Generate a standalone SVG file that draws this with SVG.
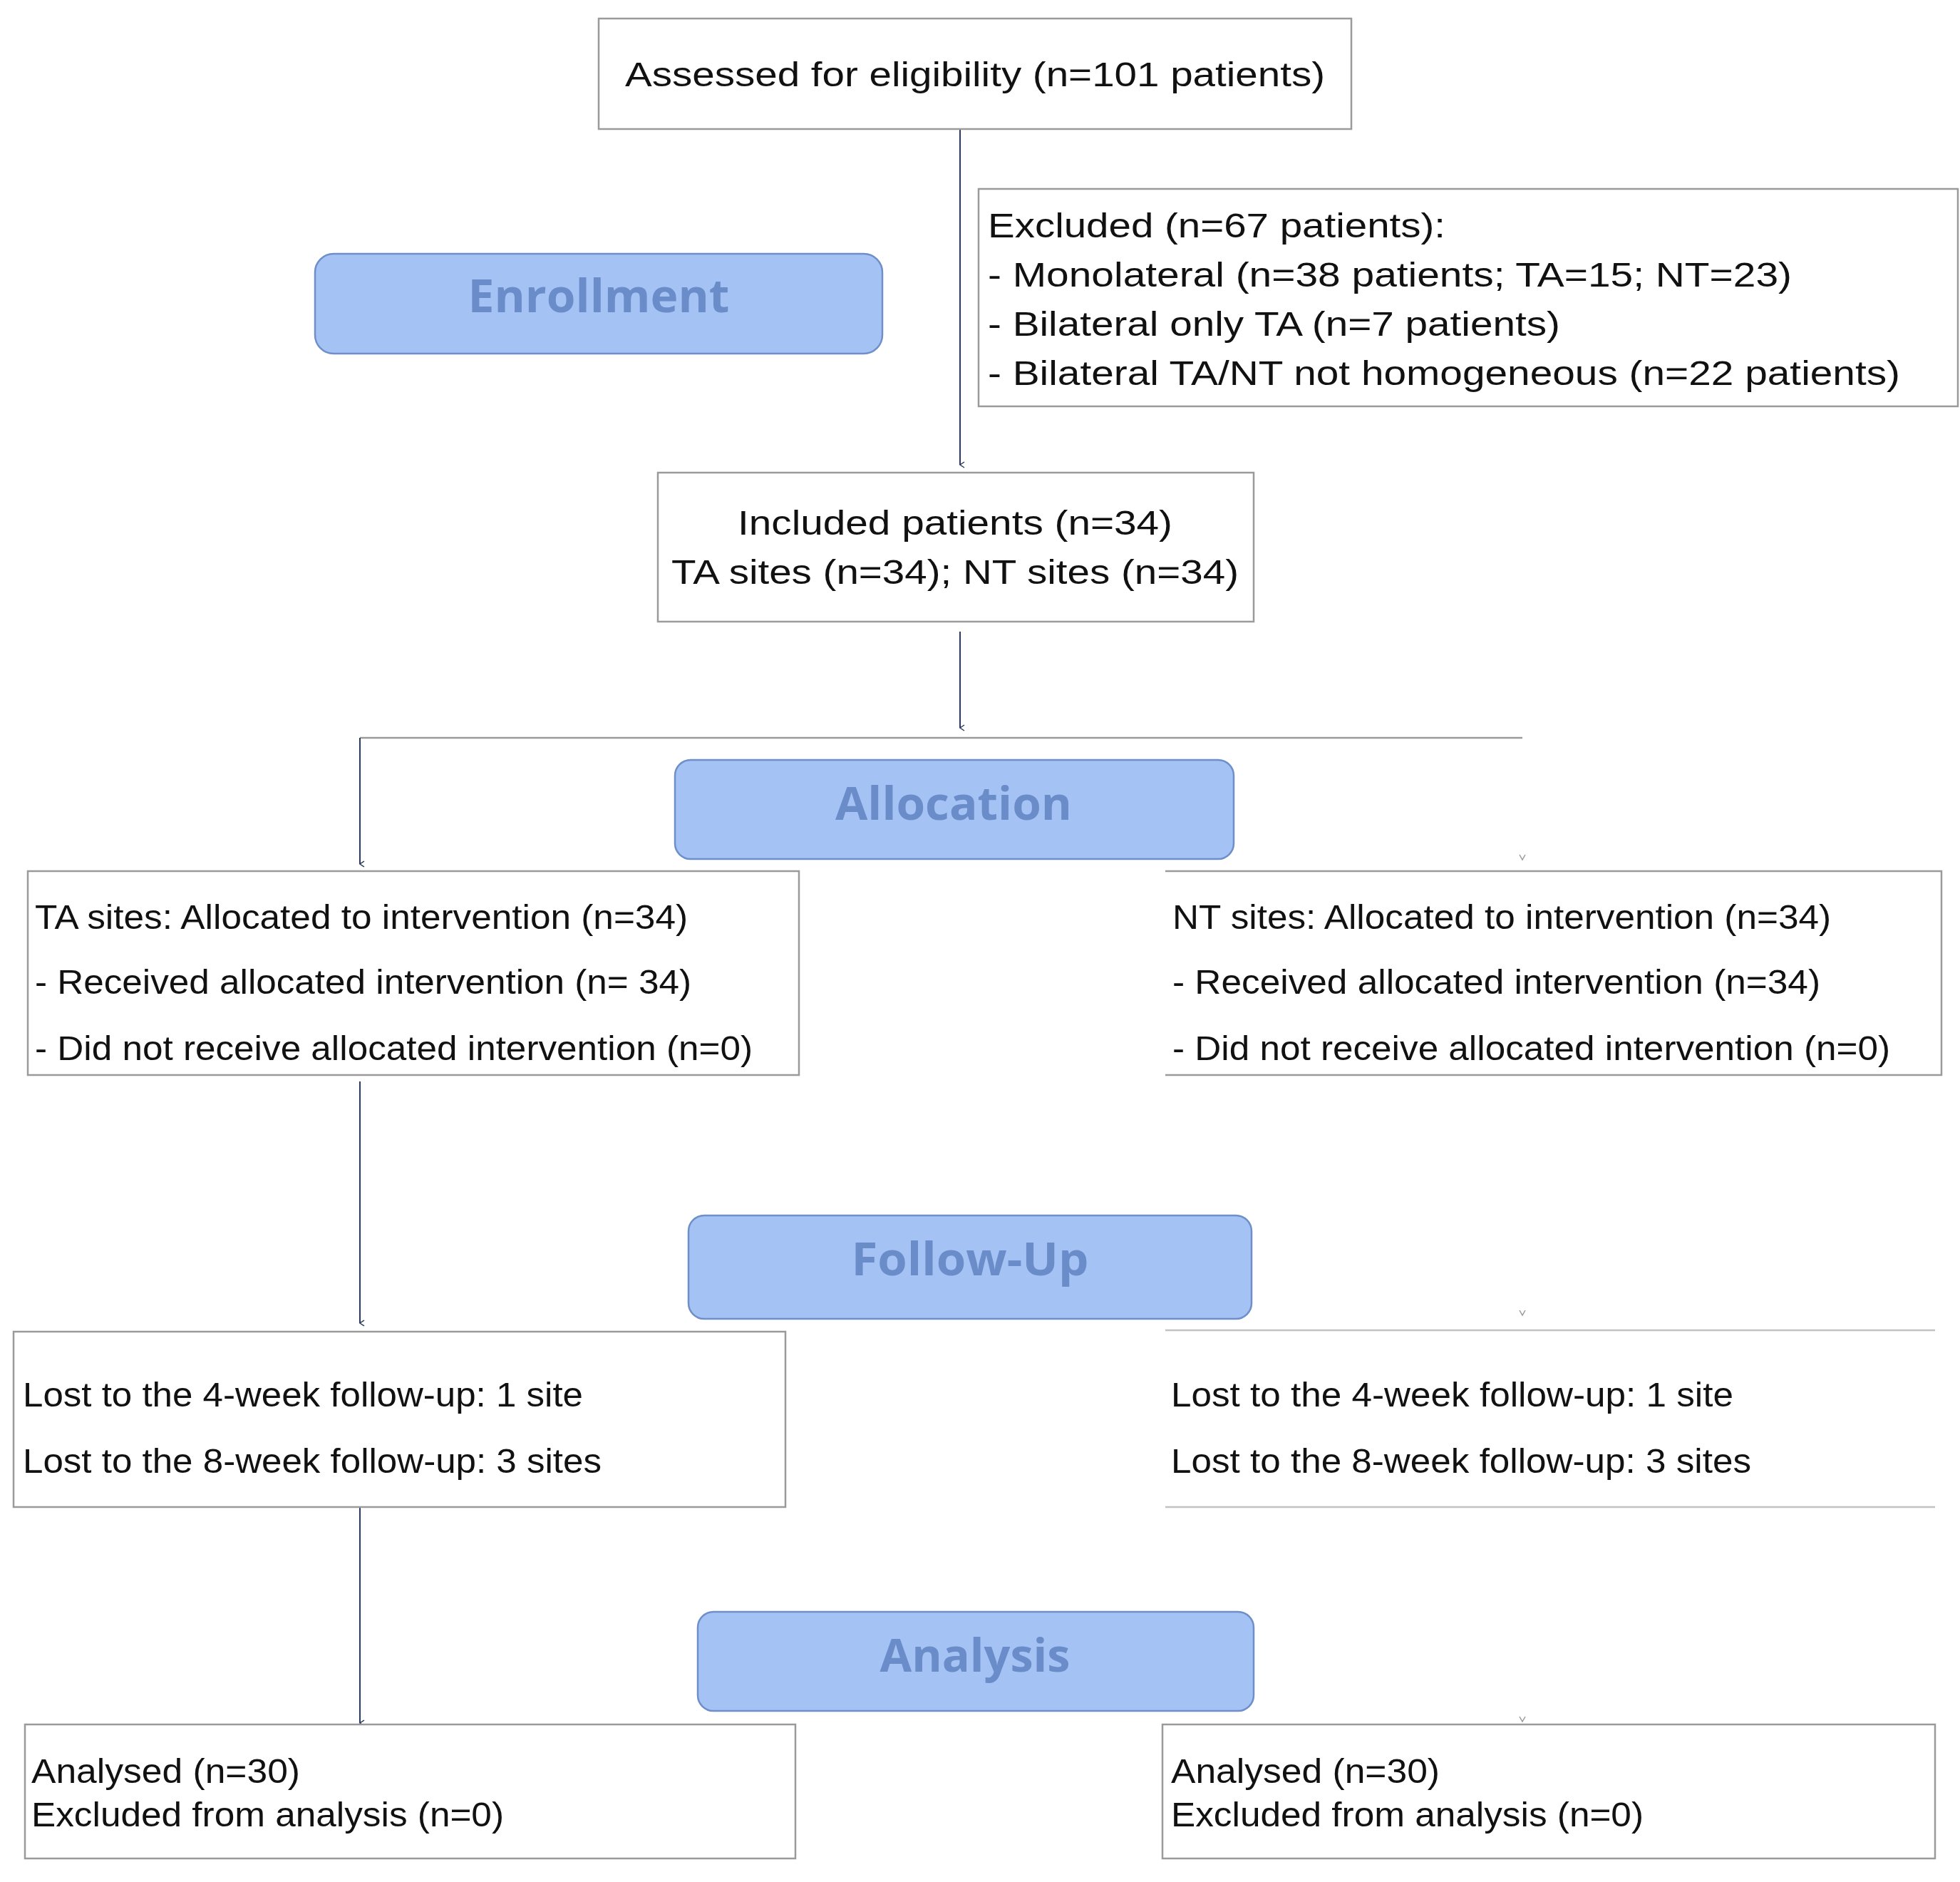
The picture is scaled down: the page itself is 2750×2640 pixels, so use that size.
<svg xmlns="http://www.w3.org/2000/svg" width="2750" height="2640" viewBox="0 0 2750 2640">
<style>
.box{fill:#fff;stroke:#9a9a9a;stroke-width:2.5}
.open{fill:none;stroke:#9a9a9a;stroke-width:2.5}
.hd{fill:#a4c2f4;stroke:#6f8fc9;stroke-width:2.5}
.ht{font-family:"Open Sans",sans-serif;font-weight:bold;font-size:64px;fill:#6a8cc8;text-anchor:middle}
.t{font-family:"Liberation Sans",Arial,sans-serif;font-size:48px;fill:#111}
.c{text-anchor:middle}
.ln{stroke:#2b3b5c;stroke-width:2;fill:none}
</style>
<defs>
<marker id="ar" markerWidth="10" markerHeight="10" refX="5" refY="8" orient="auto" markerUnits="userSpaceOnUse"><path d="M1,2 L5,8 L9,2" fill="none" stroke="#2b3b5c" stroke-width="1.5"/></marker>
</defs>
<g id="connectors">
<line class="ln" x1="1347" y1="181" x2="1347" y2="652" marker-end="url(#ar)"/>
<line class="ln" x1="1347" y1="886" x2="1347" y2="1021" marker-end="url(#ar)"/>
<line x1="505" y1="1035" x2="2136" y2="1035" stroke="#9a9a9a" stroke-width="2.5"/>
<line class="ln" x1="505" y1="1035" x2="505" y2="1212" marker-end="url(#ar)"/>
<line class="ln" x1="505" y1="1517" x2="505" y2="1856" marker-end="url(#ar)"/>
<line class="ln" x1="505" y1="2114" x2="505" y2="2417" marker-end="url(#ar)"/>
<path d="M2132,1199 L2136,1206 L2140,1199" stroke="#999" stroke-width="1.5" fill="none"/>
<path d="M2132,1838 L2136,1845 L2140,1838" stroke="#999" stroke-width="1.5" fill="none"/>
<path d="M2132,2408 L2136,2415 L2140,2408" stroke="#999" stroke-width="1.5" fill="none"/>
</g>
<g id="assessed"><rect class="box" x="840" y="26" width="1056" height="155"/><text class="t c" x="1368" y="121" textLength="982" lengthAdjust="spacingAndGlyphs">Assessed for eligibility (n=101 patients)</text></g>
<g id="excluded"><rect class="box" x="1373" y="265" width="1374" height="305"/>
<text class="t" x="1386" y="333" textLength="642" lengthAdjust="spacingAndGlyphs">Excluded (n=67 patients):</text>
<text class="t" x="1386" y="402" textLength="1128" lengthAdjust="spacingAndGlyphs">- Monolateral (n=38 patients; TA=15; NT=23)</text>
<text class="t" x="1386" y="471" textLength="803" lengthAdjust="spacingAndGlyphs">- Bilateral only TA (n=7 patients)</text>
<text class="t" x="1386" y="540" textLength="1280" lengthAdjust="spacingAndGlyphs">- Bilateral TA/NT not homogeneous (n=22 patients)</text></g>
<g id="enrollment"><rect class="hd" x="442" y="356" width="796" height="140" rx="26"/><text class="ht" x="840" y="438" textLength="367" lengthAdjust="spacingAndGlyphs">Enrollment</text></g>
<g id="included"><rect class="box" x="923" y="663" width="836" height="209"/>
<text class="t c" x="1340" y="750" textLength="610" lengthAdjust="spacingAndGlyphs">Included patients (n=34)</text>
<text class="t c" x="1340" y="819" textLength="796" lengthAdjust="spacingAndGlyphs">TA sites (n=34); NT sites (n=34)</text></g>
<g id="allocation"><rect class="hd" x="947" y="1066" width="784" height="139" rx="22"/><text class="ht" x="1338" y="1150" textLength="332" lengthAdjust="spacingAndGlyphs">Allocation</text></g>
<g id="ta-alloc"><rect class="box" x="39" y="1222" width="1082" height="286"/>
<text class="t" x="49" y="1303" textLength="916" lengthAdjust="spacingAndGlyphs">TA sites: Allocated to intervention (n=34)</text>
<text class="t" x="49" y="1394" textLength="921" lengthAdjust="spacingAndGlyphs">- Received allocated intervention (n= 34)</text>
<text class="t" x="49" y="1487" textLength="1007" lengthAdjust="spacingAndGlyphs">- Did not receive allocated intervention (n=0)</text></g>
<g id="nt-alloc"><path class="open" d="M1635,1222 H2724 V1508 H1635"/>
<text class="t" x="1645" y="1303" textLength="924" lengthAdjust="spacingAndGlyphs">NT sites: Allocated to intervention (n=34)</text>
<text class="t" x="1645" y="1394" textLength="909" lengthAdjust="spacingAndGlyphs">- Received allocated intervention (n=34)</text>
<text class="t" x="1645" y="1487" textLength="1007" lengthAdjust="spacingAndGlyphs">- Did not receive allocated intervention (n=0)</text></g>
<g id="followup"><rect class="hd" x="966" y="1705" width="790" height="145" rx="22"/><text class="ht" x="1361" y="1789" textLength="333" lengthAdjust="spacingAndGlyphs">Follow-Up</text></g>
<g id="ta-fu"><rect class="box" x="19" y="1868" width="1083" height="246"/>
<text class="t" x="32" y="1973" textLength="786" lengthAdjust="spacingAndGlyphs">Lost to the 4-week follow-up: 1 site</text>
<text class="t" x="32" y="2066" textLength="812" lengthAdjust="spacingAndGlyphs">Lost to the 8-week follow-up: 3 sites</text></g>
<g id="nt-fu"><path class="open" d="M1635,1866 H2715 M1635,2114 H2715" stroke-opacity="0.6"/>
<text class="t" x="1643" y="1973" textLength="789" lengthAdjust="spacingAndGlyphs">Lost to the 4-week follow-up: 1 site</text>
<text class="t" x="1643" y="2066" textLength="814" lengthAdjust="spacingAndGlyphs">Lost to the 8-week follow-up: 3 sites</text></g>
<g id="analysis"><rect class="hd" x="979" y="2261" width="780" height="139" rx="22"/><text class="ht" x="1368" y="2345" textLength="267" lengthAdjust="spacingAndGlyphs">Analysis</text></g>
<g id="ta-an"><rect class="box" x="35" y="2419" width="1081" height="188"/>
<text class="t" x="44" y="2501" textLength="377" lengthAdjust="spacingAndGlyphs">Analysed (n=30)</text>
<text class="t" x="44" y="2562" textLength="663" lengthAdjust="spacingAndGlyphs">Excluded from analysis (n=0)</text></g>
<g id="nt-an"><rect class="box" x="1631" y="2419" width="1084" height="188"/>
<text class="t" x="1643" y="2501" textLength="377" lengthAdjust="spacingAndGlyphs">Analysed (n=30)</text>
<text class="t" x="1643" y="2562" textLength="663" lengthAdjust="spacingAndGlyphs">Excluded from analysis (n=0)</text></g>
</svg>
